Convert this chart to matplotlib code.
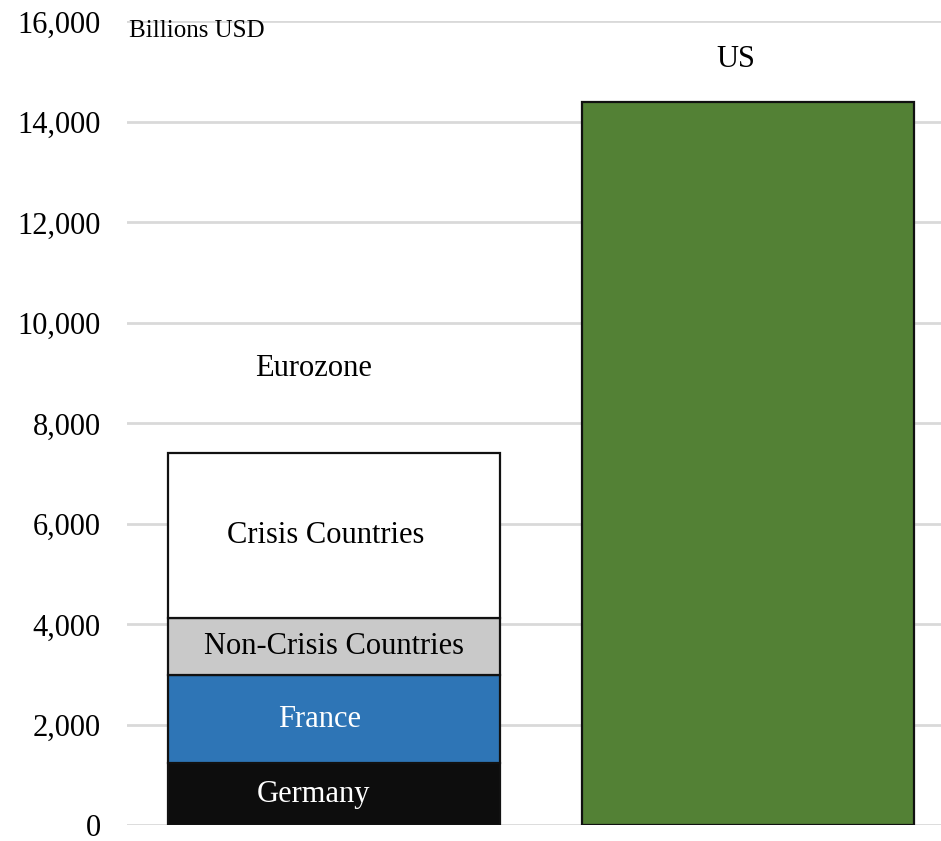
import numpy as np
import matplotlib.pyplot as plt

# Eurozone stack (bottom to top) vs US, billions USD
segments = ['Germany', 'France', 'Non-Crisis Countries', 'Crisis Countries']
segment_values = [1240, 1750, 1140, 3290]
segment_colors = ['#0d0d0d', '#2e75b6', '#c9c9c9', '#ffffff']
segment_text = ['white', 'white', 'black', 'black']
us_value = 14400
groups = ['Eurozone', 'US']
yticks = np.arange(0, 16001, 2000)

plt.rcParams['font.family'] = ['Liberation Serif', 'DejaVu Serif']

fig = plt.figure(figsize=(9.41, 8.41), dpi=100)
ax = fig.add_axes([0.135, 0.0185, 0.865, 0.956])

width = 0.8
# small horizontal nudges so labels sit like the original
nudge = {'Germany': -0.05, 'France': -0.036, 'Non-Crisis Countries': 0.0,
         'Crisis Countries': -0.02}
bottom = 0
for name, val, col, tc in zip(segments, segment_values, segment_colors, segment_text):
    ax.bar(0, val, width=width, bottom=bottom, color=col, edgecolor='#111111',
           linewidth=1.6, zorder=3)
    ax.text(nudge[name], bottom + val / 2, name,
            ha='center', va='center', fontsize=22, color=tc, zorder=4)
    bottom += val

ax.bar(1, us_value, width=width, color='#538135', edgecolor='#111111',
       linewidth=1.6, zorder=3)

ax.text(-0.05, bottom + 1680, groups[0], ha='center', va='center', fontsize=22)
ax.text(0.97, us_value + 840, groups[1], ha='center', va='center', fontsize=22)

ax.set_xlim(-0.5, 1.466)
ax.set_ylim(0, 16000)
ax.set_yticks(yticks)
ax.set_yticklabels([f'{v:,}' for v in yticks], fontsize=22)
ax.set_xticks([])
ax.tick_params(axis='y', length=0, pad=19)
ax.grid(axis='y', color='#d9d9d9', linewidth=2, zorder=0)
for s in ax.spines.values():
    s.set_visible(False)

ax.text(0.003, 15800, 'Billions USD', ha='left', va='center', fontsize=18,
        transform=ax.get_yaxis_transform())

fig.savefig('out.png', dpi=100, facecolor='white')
